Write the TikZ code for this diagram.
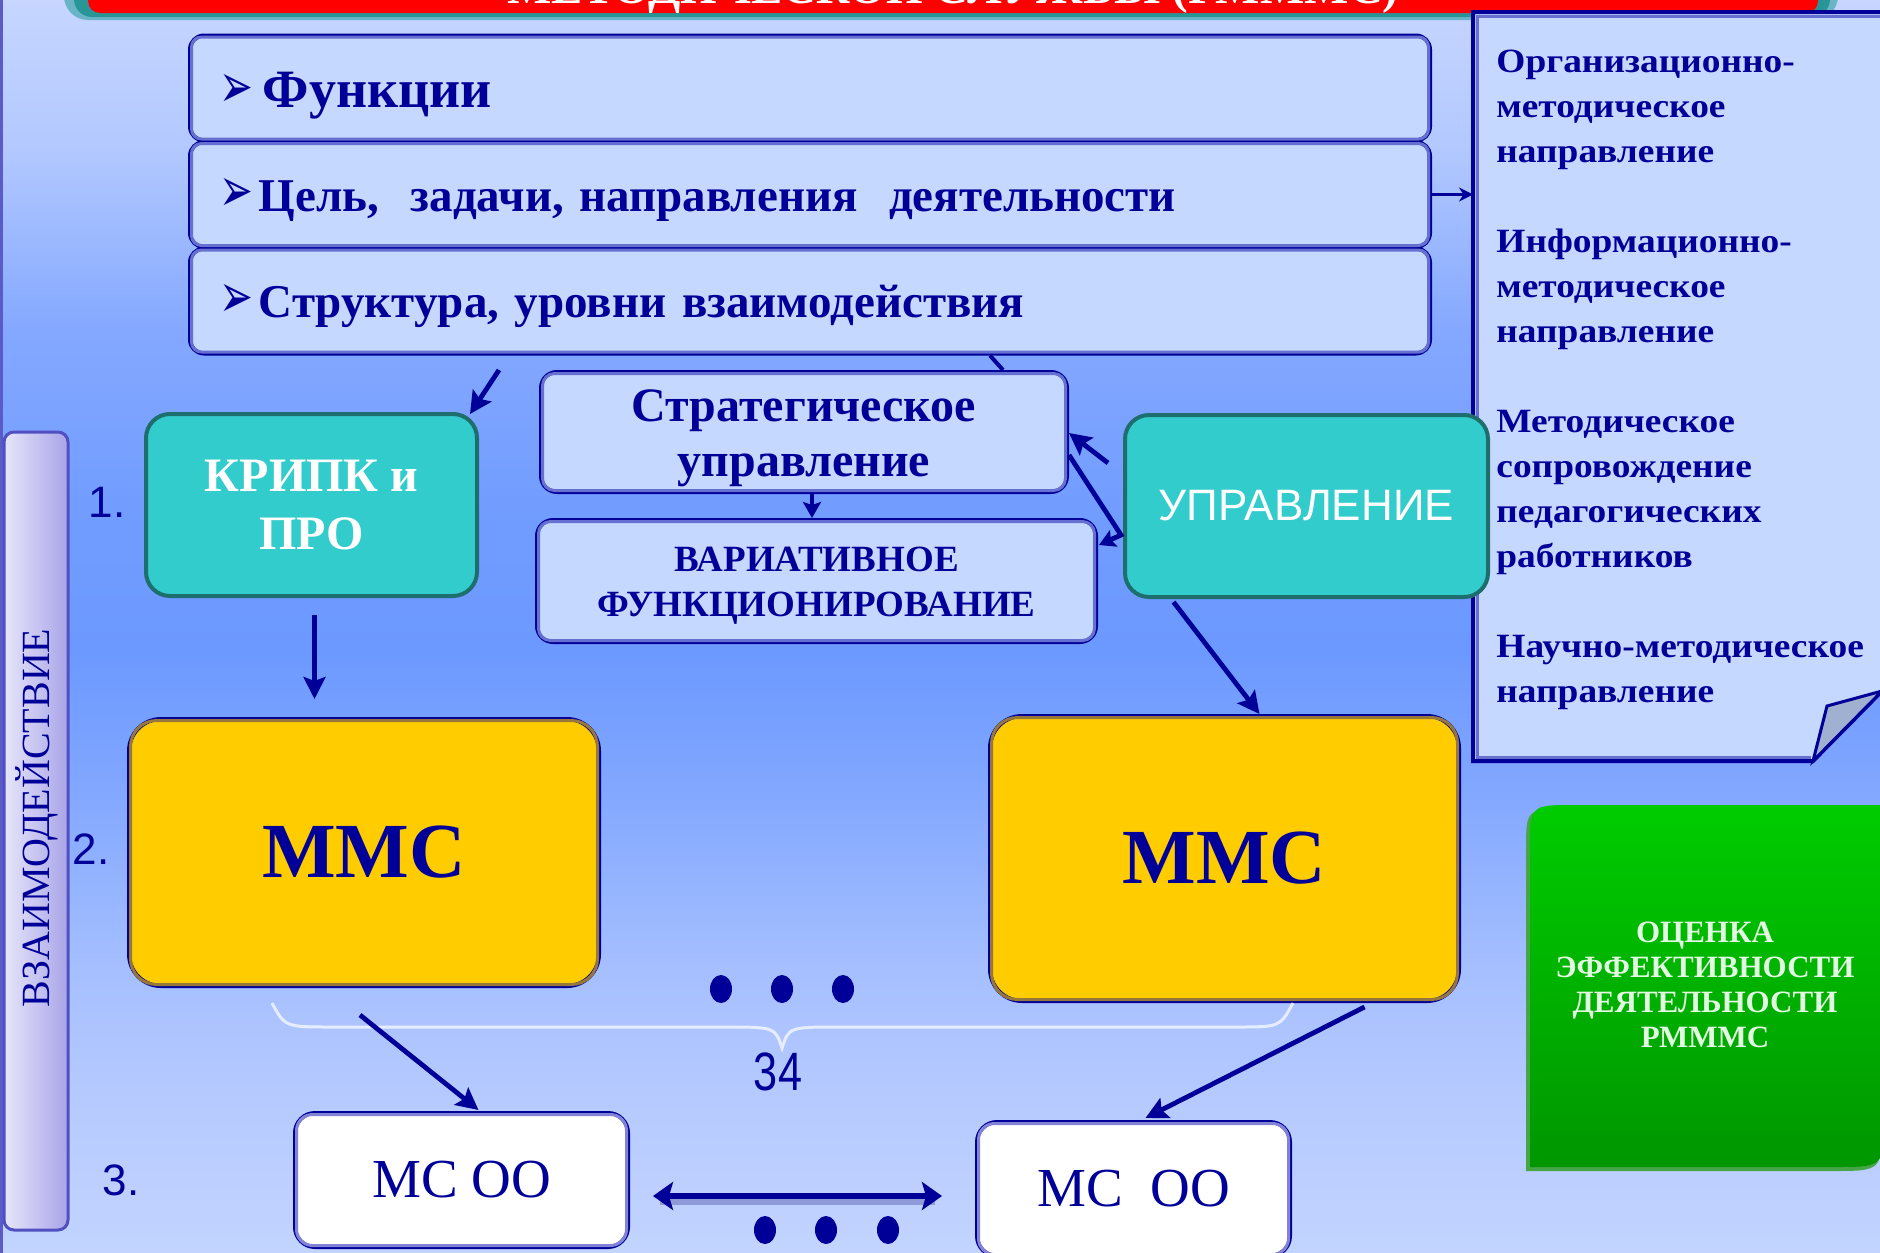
\documentclass[tikz,border=0pt]{standalone}
\usepackage{fontspec}
\usepackage{graphicx}
\setmainfont{Liberation Serif}
\newfontfamily\sansf{Liberation Sans}
\newfontfamily\djv{DejaVu Sans}
\newfontfamily\panelf[FakeStretch=1.1]{Liberation Serif}
\usetikzlibrary{arrows.meta,calc}
\definecolor{navy}{RGB}{0,0,153}
\definecolor{boxfill}{RGB}{197,216,255}
\definecolor{bevelc}{RGB}{102,112,208}
\definecolor{tealc}{RGB}{51,204,204}
\definecolor{teald}{RGB}{30,110,110}
\definecolor{yel}{RGB}{255,204,0}
\definecolor{brownb}{RGB}{150,120,60}
\definecolor{msbev}{RGB}{130,130,215}
\definecolor{flapc}{RGB}{160,176,208}
\definecolor{barc}{RGB}{80,80,192}
\definecolor{barl}{RGB}{230,230,250}
\definecolor{barr}{RGB}{168,164,232}
\definecolor{framec}{RGB}{90,90,200}
\definecolor{greent}{RGB}{0,204,0}
\definecolor{greenb}{RGB}{0,150,0}
\definecolor{greensh}{RGB}{70,165,70}
\definecolor{gtext}{RGB}{225,250,225}
\definecolor{tealA}{RGB}{106,180,200}
\definecolor{tealB}{RGB}{40,150,150}
\definecolor{bannerred}{RGB}{255,0,0}
\definecolor{shadowc}{RGB}{110,120,190}
\definecolor{ga}{RGB}{198,214,255}
\definecolor{gb}{RGB}{178,200,255}
\definecolor{gc}{RGB}{132,168,255}
\definecolor{gd}{RGB}{114,157,255}
\definecolor{ge}{RGB}{108,153,255}
\definecolor{gf}{RGB}{128,166,255}
\definecolor{gg}{RGB}{164,190,255}
\definecolor{gh}{RGB}{182,202,255}
\definecolor{gi}{RGB}{194,212,255}
\newcommand\bul[1]{{\djv\fontsize{27}{27}\selectfont\scalebox{0.75}[1.15]{➢}}\hspace{#1}}
\newcommand\bevelbox[3]{\draw[#2, line width=1.5pt, rounded corners=#3] ($(#1.north west)+(3.5,3.5)$) rectangle ($(#1.south east)+(-3.5,-3.5)$);}
\begin{document}
\begin{tikzpicture}[x=0.5pt,y=-0.5pt,
  tbox/.style={draw=navy, line width=2pt, fill=boxfill, rounded corners=7pt, inner xsep=14.5pt, inner ysep=0pt,
    text width=591pt, minimum height=52.5pt, align=left, font=\bfseries\fontsize{23.5}{28}\selectfont, text=navy,
    text depth=0pt, text height=16.5pt},
  mbox/.style={draw=navy, line width=2pt, fill=boxfill, rounded corners=8pt, inner sep=0pt, align=center, text=navy},
  tealbox/.style={draw=teald, line width=2pt, fill=tealc, rounded corners=12pt, inner sep=0pt, align=center, text=white},
  mmsbox/.style={draw=navy, line width=2pt, fill=yel, rounded corners=16pt, inner sep=0pt, text=navy,
    font=\bfseries\fontsize{39}{39}\selectfont},
  msbox/.style={draw=navy, line width=2pt, fill=white, rounded corners=10pt, inner sep=0pt, text=navy,
    font=\fontsize{27.5}{30}\selectfont},
  lbl/.style={inner sep=0pt, text=navy, font=\sansf\fontsize{22}{22}\selectfont},
  arr/.style={draw=navy, line width=2.4pt, -{Stealth[length=11pt, width=11pt, inset=2pt]}},
  dotc/.style={fill=navy}
]
\useasboundingbox (0,0) rectangle (1880,1253);
\clip (0,0) rectangle (1880,1253);
% background
\shade[top color=ga,bottom color=gb] (-2,-2) rectangle (1882,151);
\shade[top color=gb,bottom color=gc] (-2,150) rectangle (1882,331);
\shade[top color=gc,bottom color=gd] (-2,330) rectangle (1882,501);
\shade[top color=gd,bottom color=ge] (-2,500) rectangle (1882,651);
\shade[top color=ge,bottom color=gf] (-2,650) rectangle (1882,781);
\shade[top color=gf,bottom color=gg] (-2,780) rectangle (1882,961);
\shade[top color=gg,bottom color=gh] (-2,960) rectangle (1882,1101);
\shade[top color=gh,bottom color=gi] (-2,1100) rectangle (1882,1255);
\draw[framec, line width=1.5pt] (1.5,0) -- (1.5,1253);
% banner
\fill[tealA, rounded corners=12pt] (64,-80) rectangle (1838,20);
\fill[tealB, rounded corners=9pt] (74,-80) rectangle (1830,17);
\fill[bannerred, rounded corners=6pt] (88,-80) rectangle (1818,13);
\node[anchor=base, inner sep=0pt, text=white, font=\bfseries\fontsize{23.5}{23.5}\selectfont] (title) at (953,3) {МЕТОДИЧЕСКОЙ СЛУЖБЫ (РМММС)};
% right panel
\coordinate (pnl) at (1473,12);
\fill[boxfill] (1473,12) -- (1885,12) -- (1885,688) -- (1813,761) -- (1473,761) -- cycle;
\draw[bevelc, line width=1.5pt] (1885,16.5) -- (1477.5,16.5) -- (1477.5,757) -- (1811,757);
\draw[navy, line width=2pt] (1885,12) -- (1473,12) -- (1473,761) -- (1813,761) -- (1882,691);
\filldraw[fill=flapc, draw=navy, line width=1.5pt] (1813,761) -- (1827,706) -- (1882,691) -- cycle;
\node[anchor=north west, inner sep=0pt, align=left, text=navy, font=\panelf\bfseries\fontsize{17}{22.5}\selectfont] (ptext) at (1496,50)
 {Организационно-\\методическое\\направление\\[22.5pt]Информационно-\\методическое\\направление\\[22.5pt]Методическое\\сопровождение\\педагогических\\работников\\[22.5pt]Научно-методическое\\направление};
% top boxes
\node[tbox, font=\bfseries\fontsize{27}{32}\selectfont, text height=19.5pt] (b1) at (810,88) {\bul{5pt}Функции};
\node[tbox] (b2) at (810,194.5) {\bul{3pt}Цель,\ \ задачи, направления\ \ деятельности};
\node[tbox] (b3) at (810,301) {\bul{3pt}Структура, уровни взаимодействия};
\bevelbox{b1}{bevelc}{5pt}
\bevelbox{b2}{bevelc}{5pt}
\bevelbox{b3}{bevelc}{5pt}
% middle boxes
\node[mbox, minimum width=263pt, minimum height=60pt, font=\bfseries\fontsize{24}{27.5}\selectfont] (strat) at (804,432) {\rule{0pt}{22.5pt}Стратегическое\\управление};
\node[mbox, minimum width=279.5pt, minimum height=61pt, font=\bfseries\fontsize{18.5}{22.5}\selectfont] (var) at (816.5,581) {\rule{0pt}{16.5pt}ВАРИАТИВНОЕ\\ФУНКЦИОНИРОВАНИЕ};
\bevelbox{strat}{bevelc}{6pt}
\bevelbox{var}{bevelc}{6pt}
\node[tealbox, minimum width=165.5pt, minimum height=91pt, font=\bfseries\fontsize{24}{29}\selectfont] (krip) at (311.5,505) {КРИПК и\\ПРО};
\node[tealbox, minimum width=181.5pt, minimum height=91pt, font=\sansf\fontsize{22}{22}\selectfont] (upr) at (1306.5,506) {УПРАВЛЕНИЕ};
% MMS
\node[mmsbox, minimum width=235pt, minimum height=133.5pt] (mmsL) at (364,852.5) {ММС};
\node[mmsbox, minimum width=234.5pt, minimum height=142.5pt] (mmsR) at (1224.5,858.5) {ММС};
\bevelbox{mmsL}{brownb}{13pt}
\bevelbox{mmsR}{brownb}{13pt}
% MS OO
\node[msbox, minimum width=166.5pt, minimum height=67pt] (msL) at (461.5,1180) {МС ОО};
\node[msbox, minimum width=156.5pt, minimum height=67pt] (msR) at (1133.5,1189) {МС\ \ ОО};
\bevelbox{msL}{msbev}{8pt}
\bevelbox{msR}{msbev}{8pt}
% green box
\fill[greensh] (1526,1171) -- (1526,851) .. controls (1526,809) .. (1568,809) -- (1882,809) -- (1882,1121) .. controls (1882,1171) .. (1832,1171) -- cycle;
\shade[top color=greent, bottom color=greenb] (1530,1167) -- (1530,850) .. controls (1530,805) .. (1575,805) -- (1884,805) -- (1884,1117) .. controls (1884,1167) .. (1834,1167) -- cycle;
\node[align=center, inner sep=0pt, text=gtext, font=\bfseries\fontsize{15.5}{17.5}\selectfont] (eval) at (1705,985) {ОЦЕНКА\\ЭФФЕКТИВНОСТИ\\ДЕЯТЕЛЬНОСТИ\\РМММС};
% vertical bar
\node[draw=barc, line width=1.5pt, left color=barl, right color=barr, rounded corners=5pt, minimum width=32pt, minimum height=399pt, inner sep=0pt] (bar) at (36,831) {};
\node[rotate=90, inner sep=0pt, text=navy, font=\fontsize{20}{20}\selectfont] (vz) at (37,818) {ВЗАИМОДЕЙСТВИЕ};
% level labels
\node[lbl] (n1) at (107,502) {1.};
\node[lbl] (n2) at (91,849) {2.};
\node[lbl] (n3) at (121,1180) {3.};
% dots and brace
\fill[dotc] (721,989) ellipse [x radius=11, y radius=14];
\fill[dotc] (782,989) ellipse [x radius=11, y radius=14];
\fill[dotc] (843,989) ellipse [x radius=11, y radius=14];
\fill[dotc] (765,1230) ellipse [x radius=11, y radius=14];
\fill[dotc] (826,1230) ellipse [x radius=11, y radius=14];
\fill[dotc] (888,1230) ellipse [x radius=11, y radius=14];
\draw[white, opacity=0.7, line width=1.5pt] (272,1003) .. controls (285,1027) .. (333,1027) -- (723,1027) .. controls (775,1027) .. (782,1048) .. controls (789,1027) .. (840,1027) -- (1236,1027) .. controls (1280,1027) .. (1293,1003);
\node[lbl, font=\sansf\fontsize{27}{27}\selectfont] (n34) at (778,1072) {\scalebox{0.8}[1]{34}};
% connectors
\draw[navy, line width=1.5pt, -{Stealth[length=7pt, width=7pt]}] (b2.east) -- (b2.east -| pnl);
\draw[arr] ($(krip.north east)+(20,-42)$) -- ($(krip.north east)+(-9,2)$);
\draw[arr] ($(krip.south)+(3,17)$) -- ($(mmsL.north -| krip.south)+(3,-18)$);
\draw[navy, line width=2pt] ($(b3.south)+(180,0)$) -- ($(strat.north)+(199,0)$);
\draw[navy, line width=2.4pt, -{Stealth[length=8pt, width=9pt, inset=1.5pt]}] ($(strat.south)+(8,0)$) -- ($(var.north)+(-4.5,0)$);
\draw[arr] ($(upr.west)+(-15,-43)$) -- ($(strat.east)+(0,1)$);
\draw[navy, line width=2.4pt, -{Stealth[length=8pt, width=9pt, inset=1.5pt]}] ($(strat.east)+(0,23)$) -- ($(upr.west)+(-2,29)$) -- ($(var.east)+(1,-36)$);
\draw[arr] ($(upr.south)+(-133,3)$) -- ($(mmsR.north)+(35,0)$);
\draw[arr] ($(mmsL.south)+(-4,27)$) -- ($(msL.north)+(17,-1)$);
\draw[arr] ($(mmsR.south)+(140,4)$) -- ($(msR.north)+(12,-2)$);
\draw[shadowc, opacity=0.6, line width=3pt] ($(msL.east)+(30,22)$) -- ($(msL.east -| msR.west)+(-40,22)$);
\draw[navy, line width=3pt, {Stealth[length=10pt, width=14pt, inset=2pt]}-{Stealth[length=10pt, width=14pt, inset=2pt]}] ($(msL.east)+(23,16)$) -- ($(msL.east -| msR.west)+(-33,16)$);
\end{tikzpicture}
\end{document}
